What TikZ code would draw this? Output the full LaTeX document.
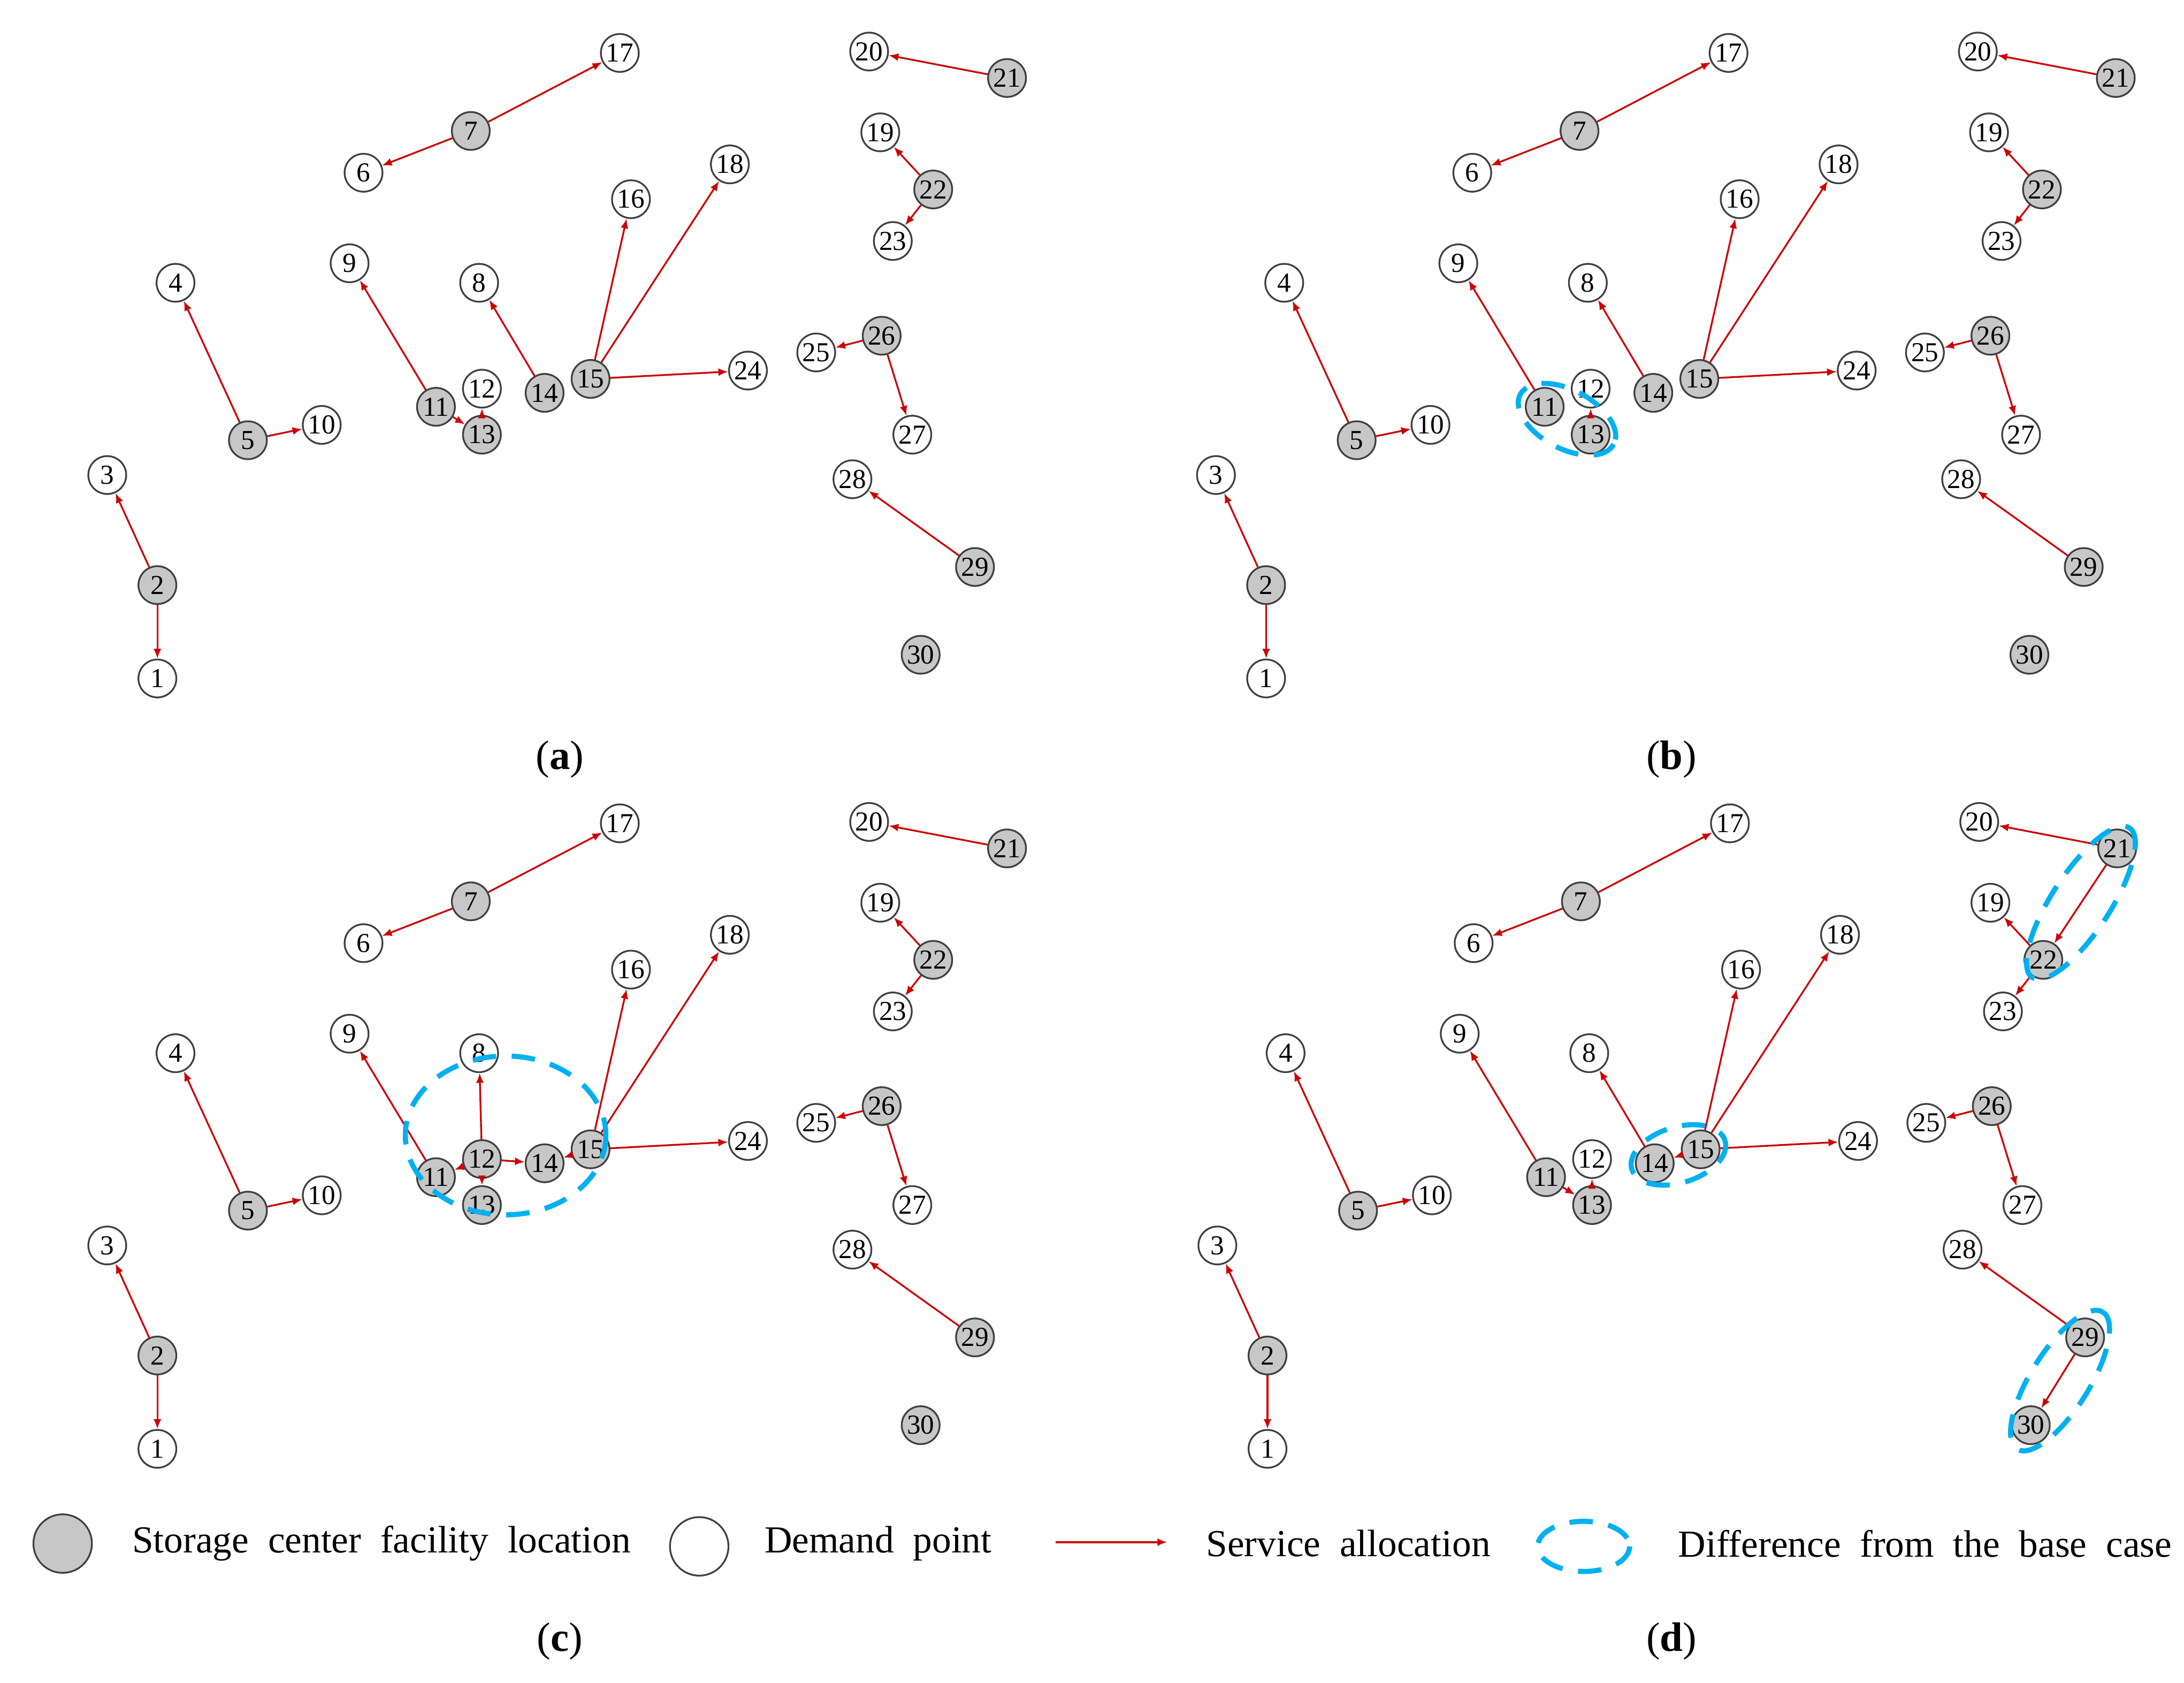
\documentclass[tikz,border=0pt]{standalone}
\usepackage{fontspec}
\setmainfont{Liberation Serif}
\usetikzlibrary{arrows.meta}
\definecolor{ared}{RGB}{204,0,0}
\definecolor{dcyan}{RGB}{0,176,240}
\tikzset{
 pt/.style={circle,draw=black!75,line width=0.9pt,minimum size=0.68cm,inner sep=0pt,font=\fontsize{14}{14}\selectfont,fill=white},
 fac/.style={pt,fill=black!22},
 al/.style={ared,line width=0.9pt,-{Latex[length=5pt,width=4pt]},shorten >=0pt},
 diff/.style={dcyan,line width=2.6pt,dash pattern=on 12pt off 8pt},
 plab/.style={font=\fontsize{21}{21}\selectfont},
 leg/.style={font=\fontsize{19.5}{19.5}\selectfont,anchor=west}
}
\newcommand\basenodes[4]{%
\begin{scope}[shift={(#2,#3)}]
\node[pt] (#1-1) at (113,487) {1};
\node[fac] (#1-2) at (113,420) {2};
\node[pt] (#1-3) at (77,341) {3};
\node[pt] (#1-4) at (126,203) {4};
\node[fac] (#1-5) at (178,316) {5};
\node[pt] (#1-10) at (231,305) {10};
\node[pt] (#1-6) at (261,124) {6};
\node[fac] (#1-7) at (338,94) {7};
\node[pt] (#1-17) at (445,38) {17};
\node[pt] (#1-9) at (251,189) {9};
\node[fac] (#1-11) at (313,292) {11};
\node[#4] (#1-12) at (346,279) {12};
\node[fac] (#1-13) at (346,312) {13};
\node[pt] (#1-8) at (344,203) {8};
\node[fac] (#1-14) at (391,282) {14};
\node[fac] (#1-15) at (424,272) {15};
\node[pt] (#1-16) at (453,143) {16};
\node[pt] (#1-18) at (524,118) {18};
\node[pt] (#1-24) at (537,266) {24};
\node[pt] (#1-20) at (624,37) {20};
\node[fac] (#1-21) at (723,56) {21};
\node[pt] (#1-19) at (632,95) {19};
\node[fac] (#1-22) at (670,136) {22};
\node[pt] (#1-23) at (641,173) {23};
\node[pt] (#1-25) at (586,253) {25};
\node[fac] (#1-26) at (633,241) {26};
\node[pt] (#1-27) at (655,312) {27};
\node[pt] (#1-28) at (612,344) {28};
\node[fac] (#1-29) at (700,407) {29};
\node[fac] (#1-30) at (661,470) {30};
\end{scope}
\draw[al] (#1-2)--(#1-1); \draw[al] (#1-2)--(#1-3);
\draw[al] (#1-5)--(#1-4); \draw[al] (#1-5)--(#1-10);
\draw[al] (#1-7)--(#1-6); \draw[al] (#1-7)--(#1-17);
\draw[al] (#1-11)--(#1-9);
\draw[al] (#1-15)--(#1-16); \draw[al] (#1-15)--(#1-18); \draw[al] (#1-15)--(#1-24);
\draw[al] (#1-22)--(#1-19); \draw[al] (#1-22)--(#1-23);
\draw[al] (#1-26)--(#1-25); \draw[al] (#1-26)--(#1-27);
\draw[al] (#1-29)--(#1-28);
}
\begin{document}
\begin{tikzpicture}[x=0.025cm,y=-0.025cm]
\useasboundingbox (0,0) rectangle (1568,1208);
% (a)
\basenodes{a}{0}{0}{pt}
\draw[al] (a-11)--(a-13); \draw[al] (a-13)--(a-12); \draw[al] (a-14)--(a-8); \draw[al] (a-21)--(a-20);
\node[plab] (la) at (402,545) {(\textbf{a})};
% (b)
\basenodes{b}{796}{0}{pt}
\draw[al] (b-13)--(b-12); \draw[al] (b-14)--(b-8); \draw[al] (b-21)--(b-20);
\draw[diff] (1125,301) ellipse [x radius=38,y radius=21,rotate=-28];
\node[plab] (lb) at (1200,545) {(\textbf{b})};
% (c)
\basenodes{c}{0}{553}{fac}
\draw[al] (c-12)--(c-8); \draw[al] (c-12)--(c-11); \draw[al] (c-12)--(c-13); \draw[al] (c-12)--(c-14);
\draw[al] (c-15)--(c-14); \draw[al] (c-21)--(c-20);
\draw[diff] (363,815) ellipse [x radius=72,y radius=57];
\node[plab] (lc) at (402,1178) {(\textbf{c})};
% (d)
\basenodes{d}{797}{553}{pt}
\draw[al] (d-11)--(d-13); \draw[al] (d-13)--(d-12); \draw[al] (d-14)--(d-8);
\draw[al] (d-15)--(d-14); \draw[al] (d-21)--(d-20); \draw[al] (d-21)--(d-22); \draw[al] (d-29)--(d-30);
\draw[diff] (1205,829) ellipse [x radius=35,y radius=20,rotate=17];
\draw[diff] (1494,648) ellipse [x radius=64,y radius=21,rotate=57];
\draw[diff] (1479,991) ellipse [x radius=58,y radius=21,rotate=58];
\node[plab] (ld) at (1200,1178) {(\textbf{d})};
% legend
\node[fac,minimum size=1.05cm] (k1) at (45,1108) {};
\node[leg] (t1) at (90,1108) {Storage\ \ center\ \ facility\ \ location};
\node[pt,minimum size=1.05cm] (k2) at (502,1110) {};
\node[leg] (t2) at (544,1108) {Demand\ \ point};
\coordinate (k3a) at (758,1107); \coordinate (k3b) at (838,1107);
\draw[al] (k3a)--(k3b);
\node[leg] (t3) at (861,1108) {Service\ \ allocation};
\draw[diff] (1137,1110) ellipse [x radius=33,y radius=18];
\node[leg] (t4) at (1200,1108) {Difference\ \ from\ \ the\ \ base\ \ case};
\end{tikzpicture}
\end{document}
